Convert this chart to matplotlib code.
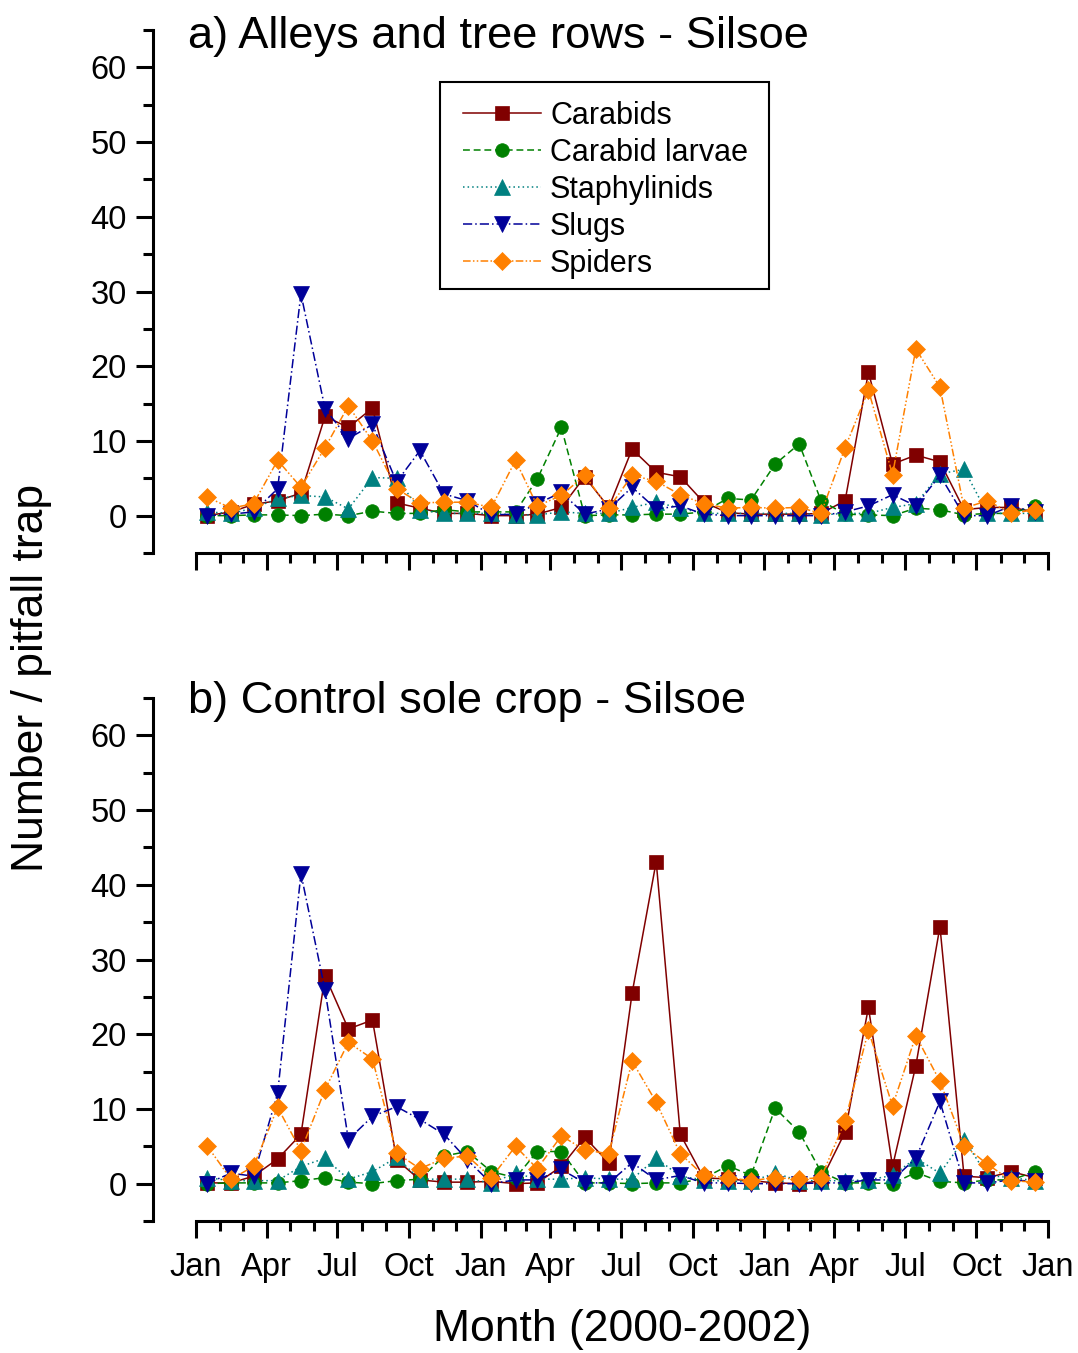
import matplotlib
matplotlib.use("Agg")
import matplotlib.pyplot as plt
import matplotlib.dates as mdates
from matplotlib.patches import Rectangle
from matplotlib.ticker import MultipleLocator
import pandas as pd

plt.rcParams["font.family"] = ["Liberation Sans", "DejaVu Sans"]

# one pitfall collection per month, mid-month, Jan 2000 - Dec 2002
sample_dates = pd.date_range("2000-01-01", periods=36, freq="MS") + pd.Timedelta(days=14)

# a) alleys and tree rows
alley_carabids = [0.0, 0.5, 1.5, 2.0, 3.0, 13.3, 11.8, 14.4, 1.7, 1.0, 0.3, 0.3,
                  0.0, 0.0, 0.2, 1.1, 5.2, 1.1, 8.9, 5.8, 5.2, 1.8, 0.4, 0.2,
                  0.2, 0.2, 0.3, 2.0, 19.2, 6.9, 8.1, 7.2, 0.8, 1.1, 1.1, 0.5]
alley_larvae = [0.0, 0.0, 0.1, 0.1, 0.0, 0.2, 0.0, 0.6, 0.3, 0.3, 0.8, 0.5,
                0.5, 0.5, 4.9, 11.8, 0.0, 0.1, 0.1, 0.2, 0.2, 0.5, 2.3, 2.1,
                6.9, 9.6, 2.0, 0.2, 0.1, 0.0, 1.0, 0.8, 0.1, 0.3, 0.3, 1.3]
alley_staph = [0.5, 0.3, 1.0, 2.3, 2.7, 2.5, 0.9, 5.1, 5.0, 0.8, 0.3, 0.3,
               0.3, 0.1, 0.1, 0.5, 0.3, 0.3, 1.1, 1.8, 1.0, 0.3, 0.3, 0.3,
               0.3, 0.3, 0.1, 0.3, 0.3, 1.1, 1.6, 5.6, 6.2, 0.3, 0.3, 0.3]
alley_slugs = [0.0, 0.2, 0.5, 3.6, 29.7, 14.3, 10.3, 12.2, 4.5, 8.7, 2.9, 2.0,
               0.1, 0.2, 1.6, 3.1, 0.2, 0.9, 3.8, 0.9, 1.3, 0.2, 0.0, 0.0,
               0.0, 0.0, 0.0, 0.5, 1.3, 2.8, 1.3, 5.4, 0.0, 0.0, 1.3, 0.5]
alley_spiders = [2.5, 1.0, 1.6, 7.4, 3.8, 9.1, 14.7, 10.0, 3.6, 1.7, 1.8, 1.8,
                 1.1, 7.4, 1.3, 2.7, 5.4, 1.0, 5.4, 4.6, 2.8, 1.6, 1.0, 1.1,
                 1.0, 1.1, 0.3, 9.1, 16.8, 5.5, 22.3, 17.2, 1.0, 2.0, 0.3, 0.8]

# b) control sole crop
crop_carabids = [0.1, 0.1, 1.0, 3.3, 6.6, 27.8, 20.7, 21.9, 3.2, 0.5, 0.2, 0.2,
                 0.3, 0.0, 0.1, 2.3, 6.2, 2.8, 25.5, 43.1, 6.6, 0.8, 0.6, 0.4,
                 0.1, 0.0, 0.4, 6.9, 23.6, 2.3, 15.8, 34.4, 1.0, 0.8, 1.6, 0.8]
crop_larvae = [0.0, 0.1, 0.1, 0.1, 0.4, 0.8, 0.2, 0.0, 0.4, 0.6, 3.7, 4.3,
               1.6, 0.8, 4.3, 4.3, 0.1, 0.1, 0.0, 0.1, 0.1, 0.7, 2.4, 1.1,
               10.1, 6.9, 1.6, 0.1, 0.1, 0.0, 1.5, 0.3, 0.1, 0.5, 0.5, 1.6]
crop_staph = [0.8, 0.4, 0.4, 0.4, 2.3, 3.4, 0.6, 1.6, 3.5, 0.6, 0.6, 0.6,
              0.1, 1.4, 0.6, 0.6, 0.8, 0.6, 0.6, 3.4, 1.0, 0.5, 0.3, 0.3,
              1.4, 0.4, 0.4, 0.4, 0.5, 1.1, 3.4, 1.4, 5.9, 1.1, 0.8, 0.4]
crop_slugs = [0.0, 1.4, 1.0, 12.1, 41.5, 25.9, 5.9, 9.0, 10.3, 8.6, 6.6, 3.2,
              0.0, 0.5, 0.5, 1.9, 0.1, 0.1, 2.8, 0.5, 1.1, 0.1, 0.1, 0.0,
              0.0, 0.0, 0.1, 0.1, 0.5, 0.5, 3.4, 11.0, 0.1, 0.1, 0.5, 0.3]
crop_spiders = [5.1, 0.6, 2.3, 10.2, 4.4, 12.6, 18.9, 16.7, 4.1, 2.0, 3.4, 3.7,
                0.8, 5.0, 2.0, 6.4, 4.5, 4.0, 16.4, 10.9, 4.0, 1.1, 0.8, 0.4,
                0.8, 0.6, 0.8, 8.4, 20.5, 10.4, 19.8, 13.7, 5.1, 2.6, 0.4, 0.2]

labels = ["Carabids", "Carabid larvae", "Staphylinids", "Slugs", "Spiders"]
panel_titles = ["a) Alleys and tree rows - Silsoe", "b) Control sole crop - Silsoe"]

STYLES = [
    dict(color="#800000", ls="-", marker="s", ms=9.8),
    dict(color="#008000", ls=(0, (4.5, 2.5)), marker="o", ms=9.8),
    dict(color="#008080", ls=(0, (1, 2)), marker="^", ms=11.8),
    dict(color="#000099", ls=(0, (6, 2, 1, 2)), marker="v", ms=11.8),
    dict(color="#FF8000", ls=(0, (5, 1.5, 1, 1.5, 1, 1.5)), marker="D", ms=9.4),
]

FIG_W, FIG_H = 1078, 1353


def style_axis(ax, show_labels):
    ax.set_xlim(pd.Timestamp("2000-01-01"), pd.Timestamp("2003-01-01"))
    ax.set_ylim(-5, 65)
    for side in ("top", "right"):
        ax.spines[side].set_visible(False)
    ax.spines["left"].set_position(("outward", 31))
    for side in ("left", "bottom"):
        ax.spines[side].set_linewidth(2.2)
    ax.yaxis.set_major_locator(MultipleLocator(10))
    ax.yaxis.set_minor_locator(MultipleLocator(5))
    ax.xaxis.set_major_locator(mdates.MonthLocator(bymonth=[1, 4, 7, 10]))
    ax.xaxis.set_minor_locator(mdates.MonthLocator())
    ax.xaxis.set_major_formatter(mdates.DateFormatter("%b"))
    ax.tick_params(which="major", direction="out", length=12, width=2.2,
                   labelsize=23.5)
    ax.tick_params(which="minor", direction="out", length=7, width=2.2)
    ax.tick_params(axis="y", pad=7)
    ax.tick_params(axis="x", labelbottom=show_labels, pad=10)
    ax.set_yticks([0, 10, 20, 30, 40, 50, 60])


fig = plt.figure(figsize=(FIG_W / 100, FIG_H / 100), dpi=100)


def px_axes(left, top, right, bottom):
    return fig.add_axes([left / FIG_W, 1 - bottom / FIG_H,
                         (right - left) / FIG_W, (bottom - top) / FIG_H])


ax_a = px_axes(196, 30, 1048, 553)
ax_b = px_axes(196, 698, 1048, 1221)

panels = [
    (ax_a, [alley_carabids, alley_larvae, alley_staph, alley_slugs, alley_spiders], 0.966),
    (ax_b, [crop_carabids, crop_larvae, crop_staph, crop_slugs, crop_spiders], 0.972),
]

for i, (ax, series, title_y) in enumerate(panels):
    for label, values, st in zip(labels, series, STYLES):
        ax.plot(sample_dates, values, color=st["color"], linestyle=st["ls"],
                linewidth=1.1, marker=st["marker"], markersize=st["ms"],
                markerfacecolor=st["color"], markeredgecolor=st["color"],
                markeredgewidth=0.5, label=label, clip_on=False)
    style_axis(ax, show_labels=(i == 1))
    ax.text(-0.0094, title_y, panel_titles[i], transform=ax.transAxes,
            ha="left", va="baseline", fontsize=32.6)

# legend entries without a frame, boxed by a plain rectangle
leg = ax_a.legend(loc="upper left", bbox_to_anchor=(463 / FIG_W, 1 - 101 / FIG_H),
                  bbox_transform=fig.transFigure, borderaxespad=0, borderpad=0,
                  fontsize=22, frameon=False, handlelength=2.55, handletextpad=0.3,
                  labelspacing=0.23, numpoints=1)
fig.patches.append(Rectangle((440 / FIG_W, 1 - 289 / FIG_H), 329 / FIG_W, 207 / FIG_H,
                             transform=fig.transFigure, fill=False,
                             edgecolor="black", linewidth=1.5, zorder=5))

fig.text(32 / FIG_W, 1 - 678 / FIG_H, "Number / pitfall trap", rotation=90,
         ha="center", va="center", fontsize=32)
fig.text(622 / FIG_W, 1 - 1330 / FIG_H, "Month (2000-2002)",
         ha="center", va="center", fontsize=32)

fig.savefig("out.png", dpi=100)
